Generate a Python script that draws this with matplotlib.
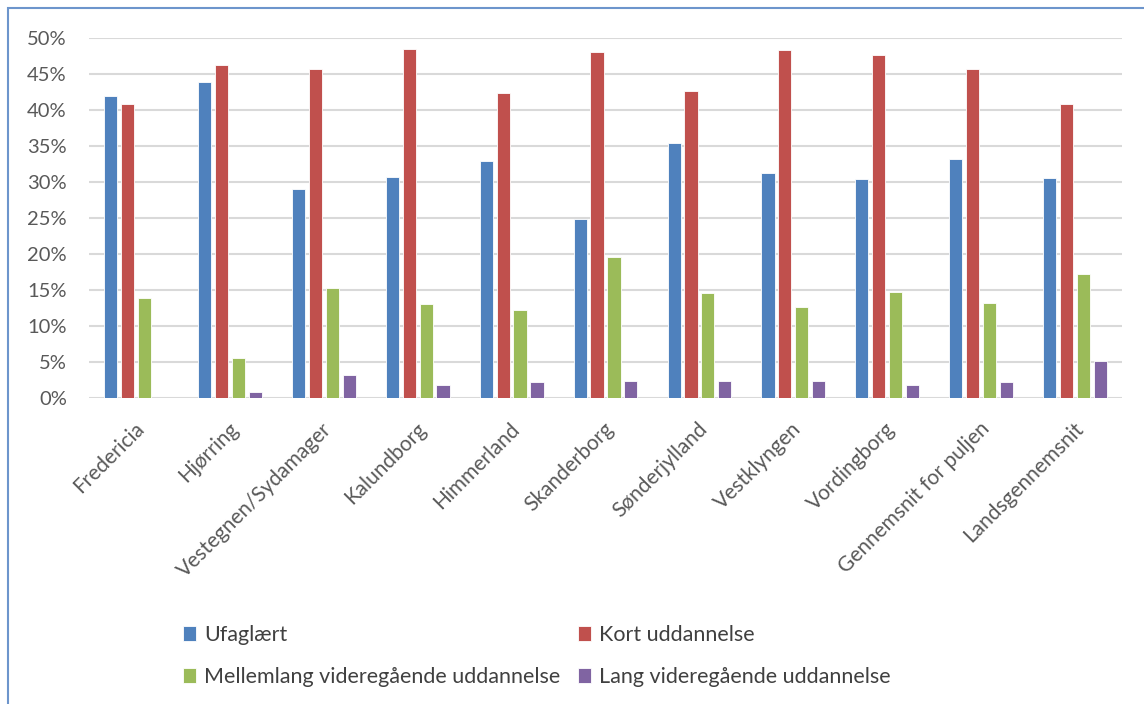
import numpy as np
import matplotlib.pyplot as plt
import matplotlib.transforms as mtransforms
from matplotlib.patches import Rectangle
from matplotlib.ticker import PercentFormatter

plt.rcParams['font.family'] = ['Lato', 'DejaVu Sans']

categories = ['Fredericia', 'Hjørring', 'Vestegnen/Sydamager', 'Kalundborg', 'Himmerland',
              'Skanderborg', 'Sønderjylland', 'Vestklyngen', 'Vordingborg',
              'Gennemsnit for puljen', 'Landsgennemsnit']
series_names = ['Ufaglært', 'Kort uddannelse',
                'Mellemlang videregående uddannelse', 'Lang videregående uddannelse']
ufaglaert = [41.9, 43.9, 29.0, 30.7, 32.9, 24.9, 35.4, 31.2, 30.4, 33.1, 30.6]
kort = [40.8, 46.2, 45.6, 48.4, 42.3, 48.0, 42.6, 48.3, 47.6, 45.6, 40.8]
mellemlang = [13.9, 5.6, 15.2, 13.1, 12.2, 19.5, 14.6, 12.6, 14.7, 13.2, 17.2]
lang = [0.0, 0.8, 3.2, 1.8, 2.2, 2.4, 2.3, 2.4, 1.8, 2.2, 5.2]
colors = ['#4f81bd', '#c0504d', '#9bbb59', '#8064a2']

fig = plt.figure(figsize=(11.44, 7.04), dpi=100)
ax = fig.add_axes([0.0778, 0.4347, 0.903, 0.5117])

x = np.arange(len(categories))
pitch = 0.18
width = 0.14
bars = []
for i, vals in enumerate([ufaglaert, kort, mellemlang, lang]):
    b = ax.bar(x + (i - 1.5) * pitch, vals, width, color=colors[i], label=series_names[i],
               edgecolor='white', linewidth=0.6, zorder=3)
    bars.append(b)

ax.set_xlim(-0.5, len(categories) - 0.5)
ax.set_ylim(0, 50)
ax.set_yticks(np.arange(0, 51, 5))
ax.yaxis.set_major_formatter(PercentFormatter(decimals=0))
ax.grid(axis='y', color='#d9d9d9', linewidth=1.5, zorder=0)
for s in ax.spines.values():
    s.set_visible(False)
ax.tick_params(length=0, labelcolor='#595959')
ax.tick_params(axis='y', pad=16, labelsize=14.5)
ax.set_xticks(x)
ax.set_xticklabels(categories, rotation=45, ha='right', rotation_mode='anchor', fontsize=15)
ax.tick_params(axis='x', pad=15)
shift = mtransforms.ScaledTranslation(-0.02, 0, fig.dpi_scale_trans)
for lbl in ax.get_xticklabels():
    lbl.set_transform(lbl.get_transform() + shift)

# legend filled row by row like the original
order = [0, 2, 1, 3]
fig.legend([bars[i] for i in order], [series_names[i] for i in order],
           loc='upper left', bbox_to_anchor=(0.143, 0.14), bbox_transform=fig.transFigure,
           ncol=2, frameon=False, fontsize=15.5, handlelength=0.6, handleheight=0.7,
           handletextpad=0.4, columnspacing=0.8, labelspacing=1.05,
           labelcolor='#404040')

fig.patches.append(Rectangle((7.5 / 1144, -0.1), 1.2, 1 - 8 / 704 + 0.1,
                             transform=fig.transFigure, fill=False,
                             edgecolor='#6d95cc', linewidth=1.5))

fig.savefig('out.png', dpi=100)
